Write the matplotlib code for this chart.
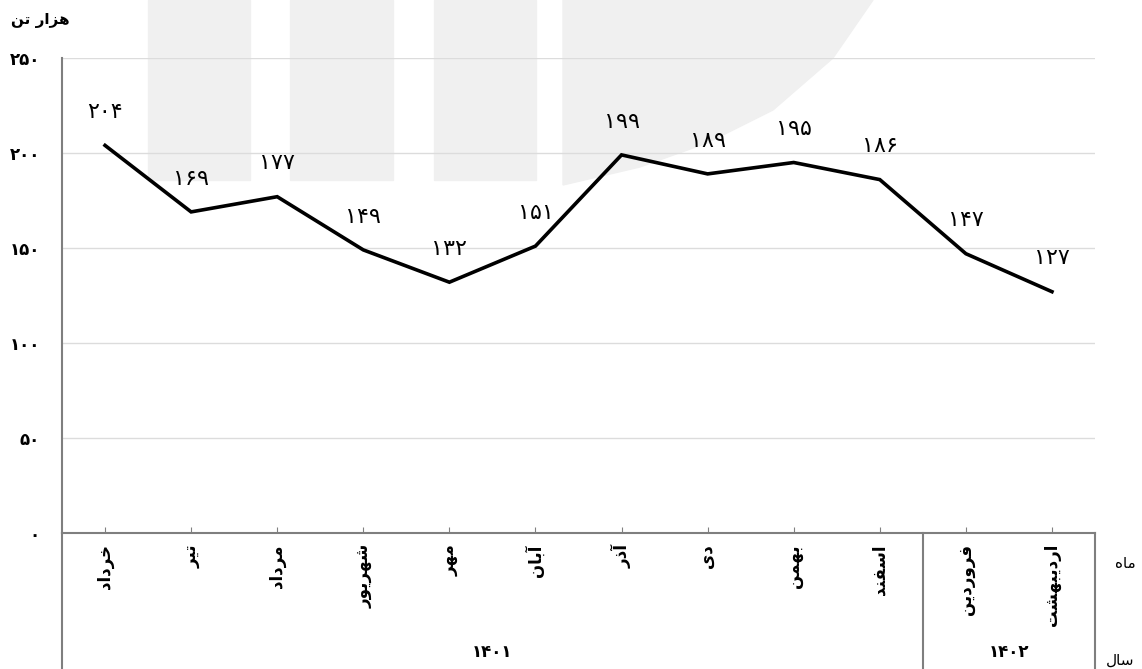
import matplotlib
matplotlib.use("Agg")
import matplotlib.pyplot as plt
from matplotlib.patches import Rectangle, Polygon

# data
months = ["خرداد", "تیر", "مرداد", "شهریور", "مهر", "آبان", "آذر", "دی",
          "بهمن", "اسفند", "فروردین", "اردیبهشت"]
values = [204, 169, 177, 149, 132, 151, 199, 189, 195, 186, 147, 127]
years = ["1401", "1402"]
year_spans = [10, 2]
yticks = [0, 50, 100, 150, 200, 250]
unit_label = "هزار تن"
month_title = "ماه"
year_title = "سال"

# minimal arabic shaping: matplotlib does no joining / bidi on its own
FORMS = {
    "ا": ("\uFE8D", "\uFE8E", None, None),
    "آ": ("\uFE81", "\uFE82", None, None),
    "ب": ("\uFE8F", "\uFE90", "\uFE91", "\uFE92"),
    "ت": ("\uFE95", "\uFE96", "\uFE97", "\uFE98"),
    "خ": ("\uFEA5", "\uFEA6", "\uFEA7", "\uFEA8"),
    "د": ("\uFEA9", "\uFEAA", None, None),
    "ذ": ("\uFEAB", "\uFEAC", None, None),
    "ر": ("\uFEAD", "\uFEAE", None, None),
    "ز": ("\uFEAF", "\uFEB0", None, None),
    "س": ("\uFEB1", "\uFEB2", "\uFEB3", "\uFEB4"),
    "ش": ("\uFEB5", "\uFEB6", "\uFEB7", "\uFEB8"),
    "ف": ("\uFED1", "\uFED2", "\uFED3", "\uFED4"),
    "ل": ("\uFEDD", "\uFEDE", "\uFEDF", "\uFEE0"),
    "م": ("\uFEE1", "\uFEE2", "\uFEE3", "\uFEE4"),
    "ن": ("\uFEE5", "\uFEE6", "\uFEE7", "\uFEE8"),
    "ه": ("\uFEE9", "\uFEEA", "\uFEEB", "\uFEEC"),
    "و": ("\uFEED", "\uFEEE", None, None),
    "ی": ("\uFBFC", "\uFBFD", "\uFBFE", "\uFBFF"),
}


def joins_next(c):
    return c in FORMS and FORMS[c][2] is not None


def shape(text):
    out = []
    i = 0
    n = len(text)
    while i < n:
        c = text[i]
        prev = text[i - 1] if i > 0 else ""
        if c not in FORMS:
            out.append(c)
            i += 1
            continue
        # lam-alef ligature
        if c == "ل" and i + 1 < n and text[i + 1] == "ا":
            out.append("\uFEFC" if joins_next(prev) else "\uFEFB")
            i += 2
            continue
        iso, fin, ini, med = FORMS[c]
        p = joins_next(prev)
        q = ini is not None and i + 1 < n and text[i + 1] in FORMS
        if p and q:
            out.append(med)
        elif p:
            out.append(fin)
        elif q:
            out.append(ini)
        else:
            out.append(iso)
        i += 1
    return "".join(reversed(out))


def fa(num):
    return str(num).translate(str.maketrans("0123456789", "۰۱۲۳۴۵۶۷۸۹"))


plt.rcParams["font.family"] = ["DejaVu Sans"]

W, H = 1142, 669
fig = plt.figure(figsize=(W / 100, H / 100), dpi=100)

# faint logo watermark (figure pixels), drawn behind the axes
wm = "#f0f0f0"
for x0, x1 in [(148, 250), (290, 393), (434, 536)]:
    fig.patches.append(Rectangle((x0 / W, 1 - 180 / H), (x1 - x0) / W, 180 / H,
                                 transform=fig.transFigure, color=wm, zorder=-1))
arc = [(563, 0), (873, 0), (833, 58), (773, 110), (707, 143), (640, 167), (563, 185)]
fig.patches.append(Polygon([(x / W, 1 - y / H) for x, y in arc],
                           transform=fig.transFigure, color=wm, zorder=-1))

left, right, top, bottom = 62, 1095, 58, 533
ax = fig.add_axes([left / W, 1 - bottom / H, (right - left) / W, (bottom - top) / H])
ax.patch.set_alpha(0)

x = list(range(len(values)))
ax.plot(x, values, color="black", lw=2.6, solid_joinstyle="miter", zorder=3)
for xi, v in zip(x, values):
    ax.annotate(fa(v), (xi, v), xytext=(0, 24), textcoords="offset points",
                ha="center", va="center", fontsize=16)

ax.set_xlim(-0.5, len(values) - 0.5)
ax.set_ylim(0, 250)
ax.set_yticks(yticks)
ax.set_yticklabels([fa(t) for t in yticks], fontsize=12, fontweight="bold")
ax.tick_params(axis="y", length=0, pad=16)
ax.set_xticks(x)
ax.set_xticklabels([shape(m) for m in months], rotation=90, fontsize=12,
                   fontweight="bold", va="top")
ax.tick_params(axis="x", direction="in", length=4, color="#808080", pad=8)

ax.grid(axis="y", color="#dcdcdc", lw=1)
ax.set_axisbelow(True)
for s in ["top", "right"]:
    ax.spines[s].set_visible(False)
for s in ["left", "bottom"]:
    ax.spines[s].set_color("#7f7f7f")
    ax.spines[s].set_linewidth(1.5)

# lower table: separators and year labels
low = -(H - bottom) / (bottom - top)
xt = ax.get_xaxis_transform()
start = -0.5
ax.plot([start, start], [0, low], color="#7f7f7f", lw=1.5, transform=xt, clip_on=False)
yl = -(652 - bottom) / (bottom - top)
for yr, span in zip(years, year_spans):
    end = start + span
    ax.plot([end, end], [0, low], color="#7f7f7f", lw=1.5, transform=xt, clip_on=False)
    ax.text((start + end) / 2, yl, fa(yr), transform=xt, ha="center", va="center",
            fontsize=12, fontweight="bold")
    start = end

fig.text(1125 / W, 1 - 563 / H, shape(month_title), ha="center", va="center", fontsize=11)
fig.text(1120 / W, 1 - 660 / H, shape(year_title), ha="center", va="center", fontsize=11)
fig.text(40 / W, 1 - 20 / H, shape(unit_label), ha="center", va="center",
         fontsize=11, fontweight="bold")

fig.savefig("out.png", dpi=100, facecolor="white")
